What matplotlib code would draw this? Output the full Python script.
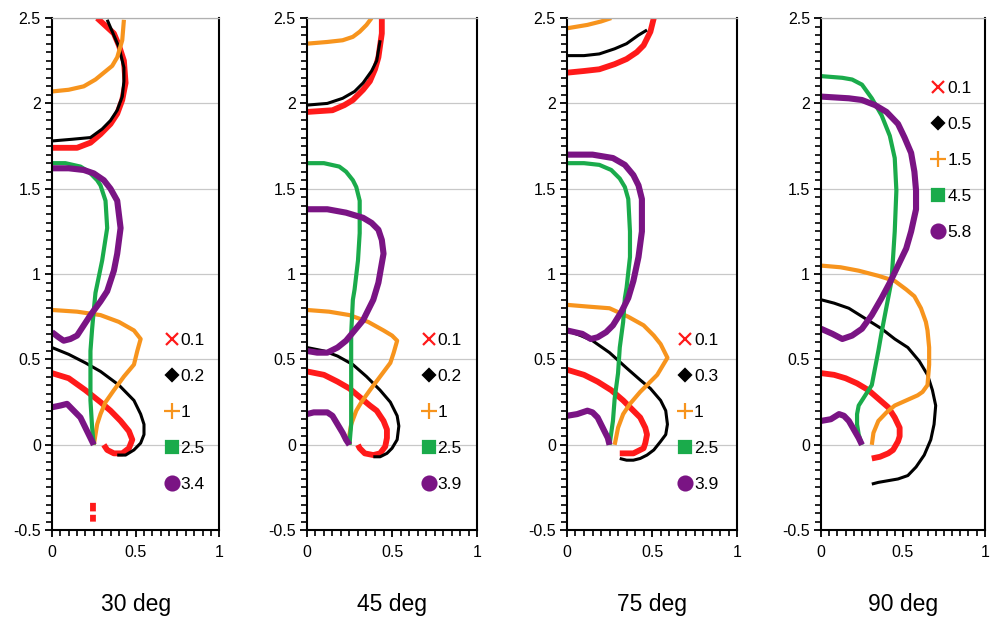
import numpy as np
import matplotlib
matplotlib.use('Agg')
import matplotlib.pyplot as plt
from matplotlib.lines import Line2D
from matplotlib.ticker import MultipleLocator, FuncFormatter

plt.rcParams['font.family'] = ['Liberation Sans', 'DejaVu Sans']

nan = np.nan

# curves, (x, y); nan splits a series into pieces
# ---- 30 deg
red30 = [(0, 0.42), (0.1, 0.39), (0.2, 0.32), (0.29, 0.25), (0.35, 0.2), (0.41, 0.14),
         (0.46, 0.08), (0.48, 0.03), (0.46, -0.02), (0.42, -0.05), (0.37, -0.05),
         (0.33, -0.03), (0.31, 0.0), (nan, nan),
         (0, 1.74), (0.15, 1.74), (0.23, 1.77), (0.29, 1.82), (0.35, 1.88), (0.39, 1.94),
         (0.42, 2.02), (0.44, 2.12), (0.43, 2.25), (0.4, 2.34), (0.37, 2.41), (0.27, 2.5),
         (nan, nan), (0.245, -0.34), (0.245, -0.39), (nan, nan), (0.245, -0.41), (0.245, -0.45)]
black30 = [(0, 0.57), (0.1, 0.53), (0.2, 0.48), (0.29, 0.43), (0.4, 0.35), (0.49, 0.26),
           (0.53, 0.18), (0.55, 0.12), (0.55, 0.06), (0.53, 0.01), (0.49, -0.03),
           (0.44, -0.06), (0.39, -0.06), (nan, nan),
           (0, 1.78), (0.12, 1.79), (0.23, 1.8), (0.3, 1.85), (0.35, 1.9), (0.39, 1.96),
           (0.42, 2.04), (0.43, 2.13), (0.43, 2.21), (0.4, 2.33), (0.33, 2.49)]
orange30 = [(0, 0.79), (0.15, 0.78), (0.29, 0.76), (0.4, 0.72), (0.49, 0.67), (0.53, 0.62),
            (0.51, 0.55), (0.49, 0.47), (0.43, 0.4), (0.37, 0.32), (0.32, 0.25), (0.29, 0.18),
            (0.27, 0.12), (0.26, 0.06), (0.25, 0.0), (nan, nan),
            (0, 2.07), (0.1, 2.08), (0.19, 2.1), (0.26, 2.14), (0.31, 2.18), (0.36, 2.22),
            (0.39, 2.27), (0.42, 2.37), (0.43, 2.49)]
green30 = [(0.25, 0.0), (0.24, 0.1), (0.23, 0.26), (0.23, 0.4), (0.23, 0.55), (0.24, 0.68),
           (0.25, 0.79), (0.26, 0.89), (0.3, 1.08), (0.33, 1.27), (0.32, 1.43), (0.29, 1.52),
           (0.27, 1.55), (0.22, 1.6), (0.17, 1.63), (0.08, 1.65), (0, 1.65)]
purple30 = [(0, 0.22), (0.05, 0.23), (0.09, 0.24), (0.13, 0.2), (0.17, 0.16), (0.2, 0.1),
            (0.23, 0.04), (0.25, 0.0), (nan, nan),
            (0, 0.66), (0.04, 0.63), (0.07, 0.61), (0.11, 0.62), (0.15, 0.64), (0.19, 0.7),
            (0.23, 0.76), (0.29, 0.84), (0.33, 0.9), (0.37, 1.02), (0.39, 1.12), (0.41, 1.27),
            (0.39, 1.43), (0.35, 1.5), (0.31, 1.55), (0.25, 1.59), (0.19, 1.61), (0.1, 1.62),
            (0, 1.62)]
labels30 = ['0.1', '0.2', '1', '2.5', '3.4']

# ---- 45 deg
red45 = [(0, 0.43), (0.1, 0.41), (0.18, 0.37), (0.25, 0.33), (0.31, 0.28), (0.37, 0.23),
         (0.41, 0.2), (0.45, 0.14), (0.47, 0.09), (0.47, 0.04), (0.46, -0.01), (0.43, -0.05),
         (0.39, -0.06), (0.34, -0.05), (0.31, -0.02), (0.3, 0.0), (nan, nan),
         (0, 1.95), (0.15, 1.96), (0.22, 1.99), (0.27, 2.02), (0.33, 2.08), (0.37, 2.13),
         (0.4, 2.2), (0.42, 2.27), (0.44, 2.41), (0.44, 2.5)]
black45 = [(0, 0.57), (0.1, 0.55), (0.18, 0.52), (0.27, 0.47), (0.35, 0.4), (0.43, 0.32),
           (0.49, 0.25), (0.53, 0.17), (0.54, 0.11), (0.53, 0.03), (0.5, -0.02),
           (0.47, -0.05), (0.43, -0.07), (0.39, -0.07), (nan, nan),
           (0, 1.99), (0.12, 2.0), (0.21, 2.03), (0.28, 2.07), (0.33, 2.12), (0.38, 2.19),
           (0.41, 2.25), (0.43, 2.37)]
orange45 = [(0, 0.79), (0.13, 0.78), (0.25, 0.76), (0.36, 0.72), (0.45, 0.67), (0.5, 0.64),
            (0.53, 0.61), (0.51, 0.54), (0.49, 0.48), (0.43, 0.4), (0.37, 0.32), (0.32, 0.25),
            (0.29, 0.2), (0.26, 0.12), (0.25, 0.06), (0.25, 0.0), (nan, nan),
            (0, 2.35), (0.12, 2.36), (0.21, 2.37), (0.27, 2.39), (0.31, 2.42), (0.35, 2.46),
            (0.38, 2.5)]
green45 = [(0.25, 0.0), (0.26, 0.12), (0.26, 0.26), (0.26, 0.45), (0.26, 0.65), (0.27, 0.85),
           (0.28, 0.91), (0.3, 1.08), (0.31, 1.24), (0.31, 1.43), (0.29, 1.51), (0.27, 1.55),
           (0.23, 1.6), (0.19, 1.63), (0.1, 1.65), (0, 1.65)]
purple45 = [(0, 0.18), (0.04, 0.19), (0.08, 0.19), (0.12, 0.19), (0.15, 0.17), (0.18, 0.12),
            (0.21, 0.07), (0.23, 0.03), (0.25, 0.0), (nan, nan),
            (0, 0.55), (0.06, 0.54), (0.12, 0.54), (0.18, 0.57), (0.23, 0.61), (0.28, 0.67),
            (0.33, 0.73), (0.39, 0.85), (0.42, 0.95), (0.45, 1.12), (0.44, 1.2), (0.42, 1.26),
            (0.38, 1.3), (0.33, 1.33), (0.23, 1.36), (0.12, 1.38), (0, 1.38)]
labels45 = ['0.1', '0.2', '1', '2.5', '3.9']

# ---- 75 deg
red75 = [(0, 0.44), (0.1, 0.41), (0.18, 0.37), (0.26, 0.32), (0.33, 0.26), (0.39, 0.2),
         (0.43, 0.16), (0.46, 0.1), (0.47, 0.06), (0.46, 0.01), (0.45, -0.02), (0.39, -0.05),
         (0.35, -0.05), (0.31, -0.05), (nan, nan),
         (0, 2.18), (0.1, 2.19), (0.19, 2.2), (0.28, 2.23), (0.35, 2.26), (0.41, 2.3),
         (0.45, 2.34), (0.49, 2.42), (0.51, 2.5)]
black75 = [(0, 0.67), (0.08, 0.64), (0.15, 0.61), (0.25, 0.54), (0.35, 0.45), (0.43, 0.38),
           (0.49, 0.33), (0.55, 0.26), (0.58, 0.2), (0.59, 0.12), (0.58, 0.06), (0.55, 0.02),
           (0.51, -0.03), (0.47, -0.06), (0.43, -0.08), (0.39, -0.09), (0.35, -0.09),
           (0.31, -0.08), (nan, nan),
           (0, 2.28), (0.1, 2.28), (0.19, 2.29), (0.28, 2.32), (0.35, 2.35), (0.42, 2.4),
           (0.47, 2.43)]
orange75 = [(0, 0.82), (0.12, 0.81), (0.25, 0.8), (0.36, 0.75), (0.45, 0.7), (0.51, 0.64),
            (0.55, 0.59), (0.59, 0.51), (0.56, 0.46), (0.53, 0.41), (0.48, 0.36), (0.43, 0.31),
            (0.37, 0.24), (0.33, 0.18), (0.3, 0.1), (0.28, 0.0), (nan, nan),
            (0, 2.44), (0.06, 2.45), (0.12, 2.46), (0.2, 2.48), (0.26, 2.5)]
green75 = [(0.25, 0.0), (0.27, 0.14), (0.28, 0.27), (0.3, 0.42), (0.31, 0.57), (0.33, 0.72),
           (0.34, 0.86), (0.35, 0.92), (0.37, 1.1), (0.37, 1.25), (0.36, 1.44), (0.34, 1.51),
           (0.31, 1.56), (0.26, 1.61), (0.19, 1.64), (0.1, 1.65), (0, 1.65)]
purple75 = [(0, 0.17), (0.06, 0.18), (0.12, 0.2), (0.15, 0.19), (0.18, 0.16), (0.21, 0.1),
            (0.24, 0.04), (0.25, 0.0), (nan, nan),
            (0, 0.67), (0.09, 0.65), (0.14, 0.62), (0.18, 0.63), (0.23, 0.66), (0.27, 0.7),
            (0.32, 0.78), (0.36, 0.86), (0.39, 0.96), (0.42, 1.1), (0.44, 1.25), (0.44, 1.44),
            (0.42, 1.52), (0.39, 1.58), (0.34, 1.64), (0.27, 1.68), (0.15, 1.7), (0, 1.7)]
labels75 = ['0.1', '0.3', '1', '2.5', '3.9']

# ---- 90 deg
red90 = [(0, 0.42), (0.08, 0.41), (0.15, 0.39), (0.22, 0.36), (0.29, 0.32), (0.35, 0.27),
         (0.41, 0.22), (0.45, 0.16), (0.48, 0.1), (0.48, 0.05), (0.47, 0.02), (0.44, -0.03),
         (0.41, -0.05), (0.36, -0.07), (0.31, -0.08)]
black90 = [(0, 0.85), (0.08, 0.83), (0.17, 0.8), (0.27, 0.74), (0.37, 0.68), (0.45, 0.62),
           (0.53, 0.57), (0.6, 0.49), (0.65, 0.41), (0.68, 0.32), (0.7, 0.23), (0.69, 0.12),
           (0.67, 0.03), (0.63, -0.06), (0.58, -0.13), (0.53, -0.18), (0.47, -0.2),
           (0.41, -0.21), (0.35, -0.22), (0.31, -0.23)]
orange90 = [(0, 1.05), (0.12, 1.04), (0.23, 1.02), (0.35, 0.99), (0.45, 0.96), (0.52, 0.91),
            (0.57, 0.87), (0.61, 0.8), (0.64, 0.72), (0.65, 0.67), (0.66, 0.57), (0.66, 0.47),
            (0.65, 0.35), (0.62, 0.31), (0.59, 0.29), (0.52, 0.26), (0.45, 0.23), (0.4, 0.19),
            (0.35, 0.14), (0.32, 0.07), (0.31, 0.0)]
green90 = [(0.25, 0.0), (0.23, 0.06), (0.22, 0.12), (0.22, 0.18), (0.23, 0.23), (0.27, 0.29),
           (0.31, 0.35), (0.33, 0.45), (0.35, 0.55), (0.37, 0.66), (0.39, 0.76), (0.41, 0.86),
           (0.43, 0.96), (0.44, 1.1), (0.45, 1.25), (0.46, 1.49), (0.45, 1.68), (0.42, 1.81),
           (0.37, 1.93), (0.31, 2.03), (0.25, 2.11), (0.19, 2.14), (0.13, 2.15), (0, 2.16)]
purple90 = [(0, 0.14), (0.06, 0.15), (0.11, 0.18), (0.14, 0.17), (0.17, 0.14), (0.2, 0.09),
            (0.23, 0.04), (0.25, 0.0), (nan, nan),
            (0, 0.68), (0.07, 0.65), (0.13, 0.62), (0.19, 0.64), (0.25, 0.68), (0.31, 0.76),
            (0.37, 0.86), (0.42, 0.95), (0.47, 1.05), (0.52, 1.15), (0.55, 1.25), (0.58, 1.38),
            (0.58, 1.49), (0.57, 1.6), (0.55, 1.71), (0.51, 1.8), (0.47, 1.88), (0.4, 1.95),
            (0.33, 1.99), (0.25, 2.02), (0.17, 2.03), (0, 2.04)]
labels90 = ['0.1', '0.5', '1.5', '4.5', '5.8']

titles = ['30 deg', '45 deg', '75 deg', '90 deg']

colors = ['#ff1a1a', '#000000', '#f7941d', '#1aab4b', '#7a1484']
widths = [4.2, 2.2, 3.0, 3.0, 4.4]
markers = ['x', 'D', '+', 's', 'o']
msizes = [9, 6, 11, 8, 10]

panels = [
    ([red30, black30, orange30, green30, purple30], labels30, titles[0]),
    ([red45, black45, orange45, green45, purple45], labels45, titles[1]),
    ([red75, black75, orange75, green75, purple75], labels75, titles[2]),
    ([red90, black90, orange90, green90, purple90], labels90, titles[3]),
]

# axes boxes in figure fraction (left, bottom, width, height)
boxes = [(0.0525, 0.149, 0.169, 0.822),
         (0.310, 0.149, 0.172, 0.822),
         (0.5727, 0.149, 0.172, 0.822),
         (0.8293, 0.149, 0.1655, 0.822)]
leg_anchor = [(0.68, 0.385), (0.68, 0.385), (0.66, 0.385), (0.68, 0.878)]


def draw_panel(ax, series, labels, title, anchor):
    for pts, c, w in zip(series, colors, widths):
        arr = np.array(pts, dtype=float)
        ax.plot(arr[:, 0], arr[:, 1], color=c, lw=w, solid_capstyle='butt',
                solid_joinstyle='round')

    ax.set_xlim(0, 1)
    ax.set_ylim(-0.5, 2.5)
    ax.set_xticks([0, 0.5, 1])
    ax.set_yticks(np.arange(-0.5, 2.51, 0.5))
    ax.xaxis.set_minor_locator(MultipleLocator(0.05))
    ax.yaxis.set_minor_locator(MultipleLocator(0.05))
    fmt = FuncFormatter(lambda v, p: '%g' % round(v, 2))
    ax.xaxis.set_major_formatter(fmt)
    ax.yaxis.set_major_formatter(fmt)
    ax.tick_params(which='major', length=5, width=1.3, labelsize=11.5, colors='black')
    ax.tick_params(axis='y', which='major', pad=3)
    ax.tick_params(axis='x', which='major', pad=6)
    ax.tick_params(which='minor', length=4, width=1.2)
    ax.grid(axis='y', color='#c8c8c8', lw=0.9)
    ax.set_axisbelow(True)
    for side in ['left', 'bottom', 'right']:
        ax.spines[side].set_linewidth(1.5)
        ax.spines[side].set_color('black')
    ax.spines['top'].set_color('#b0b0b0')
    ax.spines['top'].set_linewidth(0.9)

    handles = [Line2D([], [], ls='none', marker=m, color=c, ms=s, mew=1.6)
               for m, c, s in zip(markers, colors, msizes)]
    ax.legend(handles, labels, loc='upper left', bbox_to_anchor=anchor,
              frameon=False, fontsize=12.5, handlelength=0.7, handletextpad=0.15,
              labelspacing=1.2, borderaxespad=0, borderpad=0)

    box = ax.get_position()
    plt.gcf().text(box.x0 + box.width / 2, 0.012, title, ha='center', va='bottom',
                   fontsize=16.5)


fig = plt.figure(figsize=(9.9, 6.23), dpi=100)
for (series, labels, title), box, anchor in zip(panels, boxes, leg_anchor):
    ax = fig.add_axes(box)
    draw_panel(ax, series, labels, title, anchor)

fig.savefig('out.png', dpi=100)
